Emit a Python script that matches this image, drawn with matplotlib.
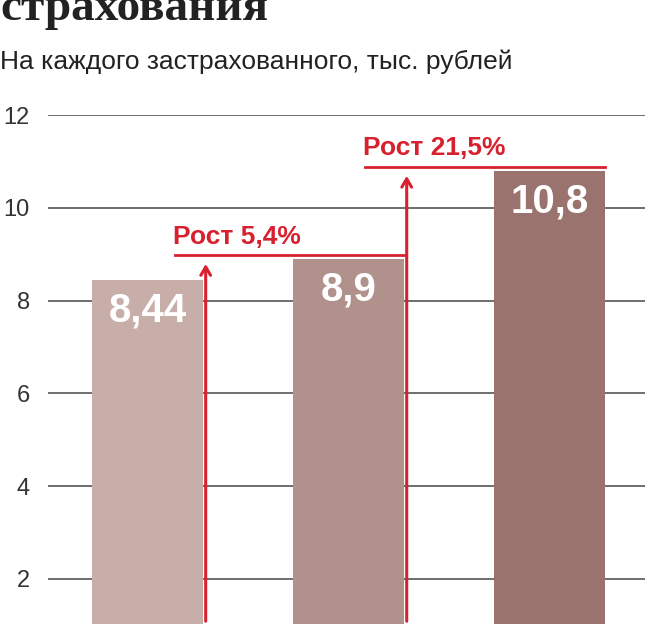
import matplotlib
matplotlib.use("Agg")
import matplotlib.pyplot as plt

categories = ["A", "B", "C"]
values = [8.44, 8.9, 10.8]
labels = ["8,44", "8,9", "10,8"]
colors = ["#c8aea9", "#b0918c", "#9a736e"]
yticks = [2, 4, 6, 8, 10, 12]
growth = ["Рост 5,4%", "Рост 21,5%"]
red = "#d7212f"
sans = ["Liberation Sans", "DejaVu Sans"]

fig = plt.figure(figsize=(6.52, 6.24), dpi=100)
ax = fig.add_axes([48/652, 0, (645-48)/652, 1-115/624])
x = list(range(len(values)))
w = 0.553
ax.bar(x, values, width=w, color=colors, zorder=2)
ax.set_xlim(-0.495, 2.475)
ax.set_ylim(1.03, 12)
for t in yticks:
    ax.axhline(t, color="#555555", lw=1.2, zorder=1)
ax.set_yticks(yticks)
ax.set_yticklabels([str(t) for t in yticks], fontsize=17, color="#333333", family=sans)
ax.tick_params(axis="y", length=0, pad=13)
ax.set_xticks([])
for s in ax.spines.values():
    s.set_visible(False)
for i, v in enumerate(values):
    ax.text(i, v - 0.25, labels[i], ha="center", va="top", color="white",
            fontsize=29, fontweight="bold", family=sans, zorder=4)

for i in range(2):
    xa = i + w/2 + 0.013
    target = values[i+1]
    ax.annotate("", xy=(xa, target - 0.05), xytext=(xa, 1.03),
                arrowprops=dict(arrowstyle="->,head_length=0.6,head_width=0.35", color=red, lw=2.2),
                zorder=5, annotation_clip=False)
    x0 = [0.137, 1.08][i]
    ax.plot([x0, i + 1 + w/2], [target + 0.08, target + 0.08], color=red, lw=2, zorder=5)
    ax.text(x0 - 0.01, target + 0.22, growth[i], ha="left", va="bottom", color=red,
            fontsize=19, fontweight="bold", family=sans, zorder=5)

fig.text(0.0, 0.968, "страхования", fontsize=34, fontweight="bold", family=["Liberation Serif", "DejaVu Serif"],
         color="#222222", ha="left", va="baseline")
fig.text(0.0, 0.89, "На каждого застрахованного, тыс. рублей", fontsize=19, color="#222222",
         ha="left", va="baseline", family=sans)
fig.savefig("out.png", dpi=100)
